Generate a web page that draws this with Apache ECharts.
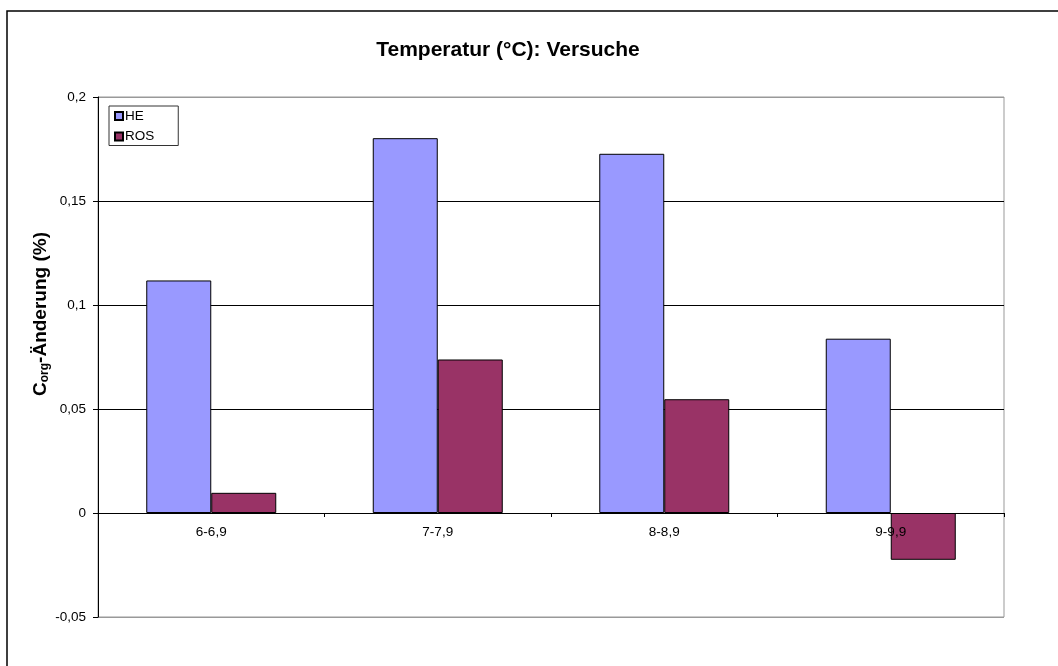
<!DOCTYPE html>
<html>
<head>
<meta charset="utf-8">
<script src="https://cdn.jsdelivr.net/npm/echarts@6/dist/echarts.min.js"></script>
<style>
html,body{margin:0;padding:0;background:#fff;}
#chart{width:1058px;height:666px;}
</style>
</head>
<body>
<div id="chart"></div>
<script>
var categories = ['6-6,9', '7-7,9', '8-8,9', '9-9,9'];
var seriesHE = [0.1118, 0.1802, 0.1727, 0.0838];
var seriesROS = [0.0097, 0.0738, 0.0547, -0.0225];
var seriesNames = ['HE', 'ROS'];
var titleText = 'Temperatur (°C): Versuche';

var FONT = '"Liberation Sans", Arial, sans-serif';
var chart = echarts.init(document.getElementById('chart'), null, {renderer: 'canvas'});

chart.setOption({
  animation: false,
  backgroundColor: '#fff',
  textStyle: {fontFamily: FONT},
  title: {
    text: titleText,
    left: 503,
    top: 35,
    textAlign: 'center',
    textStyle: {fontFamily: FONT, fontSize: 21, fontWeight: 'bold', color: '#000'}
  },
  legend: {
    orient: 'vertical',
    left: 109,
    top: 106,
    data: seriesNames,
    itemWidth: 8,
    itemHeight: 8,
    itemGap: 6.5,
    padding: [3, 24, 2, 5],
    borderColor: '#333',
    borderWidth: 1,
    backgroundColor: '#fff',
    icon: 'rect',
    textStyle: {fontFamily: FONT, fontSize: 13.5, color: '#000', padding: [0, 0, 0, -3]}
  },
  grid: {
    left: 98, right: 54, top: 97, bottom: 49,
    show: true, borderColor: '#999', borderWidth: 1, backgroundColor: '#fff',
    containLabel: false
  },
  xAxis: {
    type: 'category',
    data: categories,
    z: 10,
    offset: -104,
    axisLine: {onZero: false, lineStyle: {color: '#000', width: 1}},
    axisTick: {show: true, alignWithLabel: false, length: 4, lineStyle: {color: '#000'}},
    axisLabel: {fontFamily: FONT, fontSize: 13.5, color: '#000', margin: 12},
    splitLine: {show: false}
  },
  yAxis: {
    type: 'value',
    min: -0.05,
    max: 0.2,
    interval: 0.05,
    axisLine: {show: true, lineStyle: {color: '#000', width: 1}},
    axisTick: {show: true, length: 5, lineStyle: {color: '#000'}},
    axisLabel: {
      fontFamily: FONT, fontSize: 13.5, color: '#000', margin: 12,
      formatter: function (v) { return String(Math.round(v * 100) / 100).replace('.', ','); }
    },
    splitLine: {show: true, lineStyle: {color: ['#999', '#000', '#000', '#000', '#000', '#999'], width: 1}}
  },
  graphic: [
    {
      type: 'rect',
      shape: {x: 7, y: 11, width: 1200, height: 800},
      style: {fill: 'none', stroke: '#000', lineWidth: 1.5},
      silent: true
    },
    {
      type: 'text',
      x: 41,
      y: 314,
      rotation: Math.PI / 2,
      style: {
        text: '{b|C}{s|org}{b|-Änderung (%)}',
        textAlign: 'center',
        textVerticalAlign: 'middle',
        fill: '#000',
        rich: {
          b: {fontFamily: FONT, fontSize: 19, fontWeight: 'bold', color: '#000', verticalAlign: 'middle'},
          s: {fontFamily: FONT, fontSize: 12, fontWeight: 'bold', color: '#000', verticalAlign: 'bottom', padding: [7, 0, 0, 0]}
        }
      }
    }
  ],
  series: [
    {
      name: seriesNames[0],
      type: 'bar',
      data: seriesHE,
      barWidth: 65,
      barGap: '0%',
      itemStyle: {color: '#9999FF', borderColor: '#000', borderWidth: 1}
    },
    {
      name: seriesNames[1],
      type: 'bar',
      data: seriesROS,
      barWidth: 65,
      barGap: '0%',
      itemStyle: {color: '#993366', borderColor: '#000', borderWidth: 1}
    }
  ]
});
</script>
</body>
</html>
